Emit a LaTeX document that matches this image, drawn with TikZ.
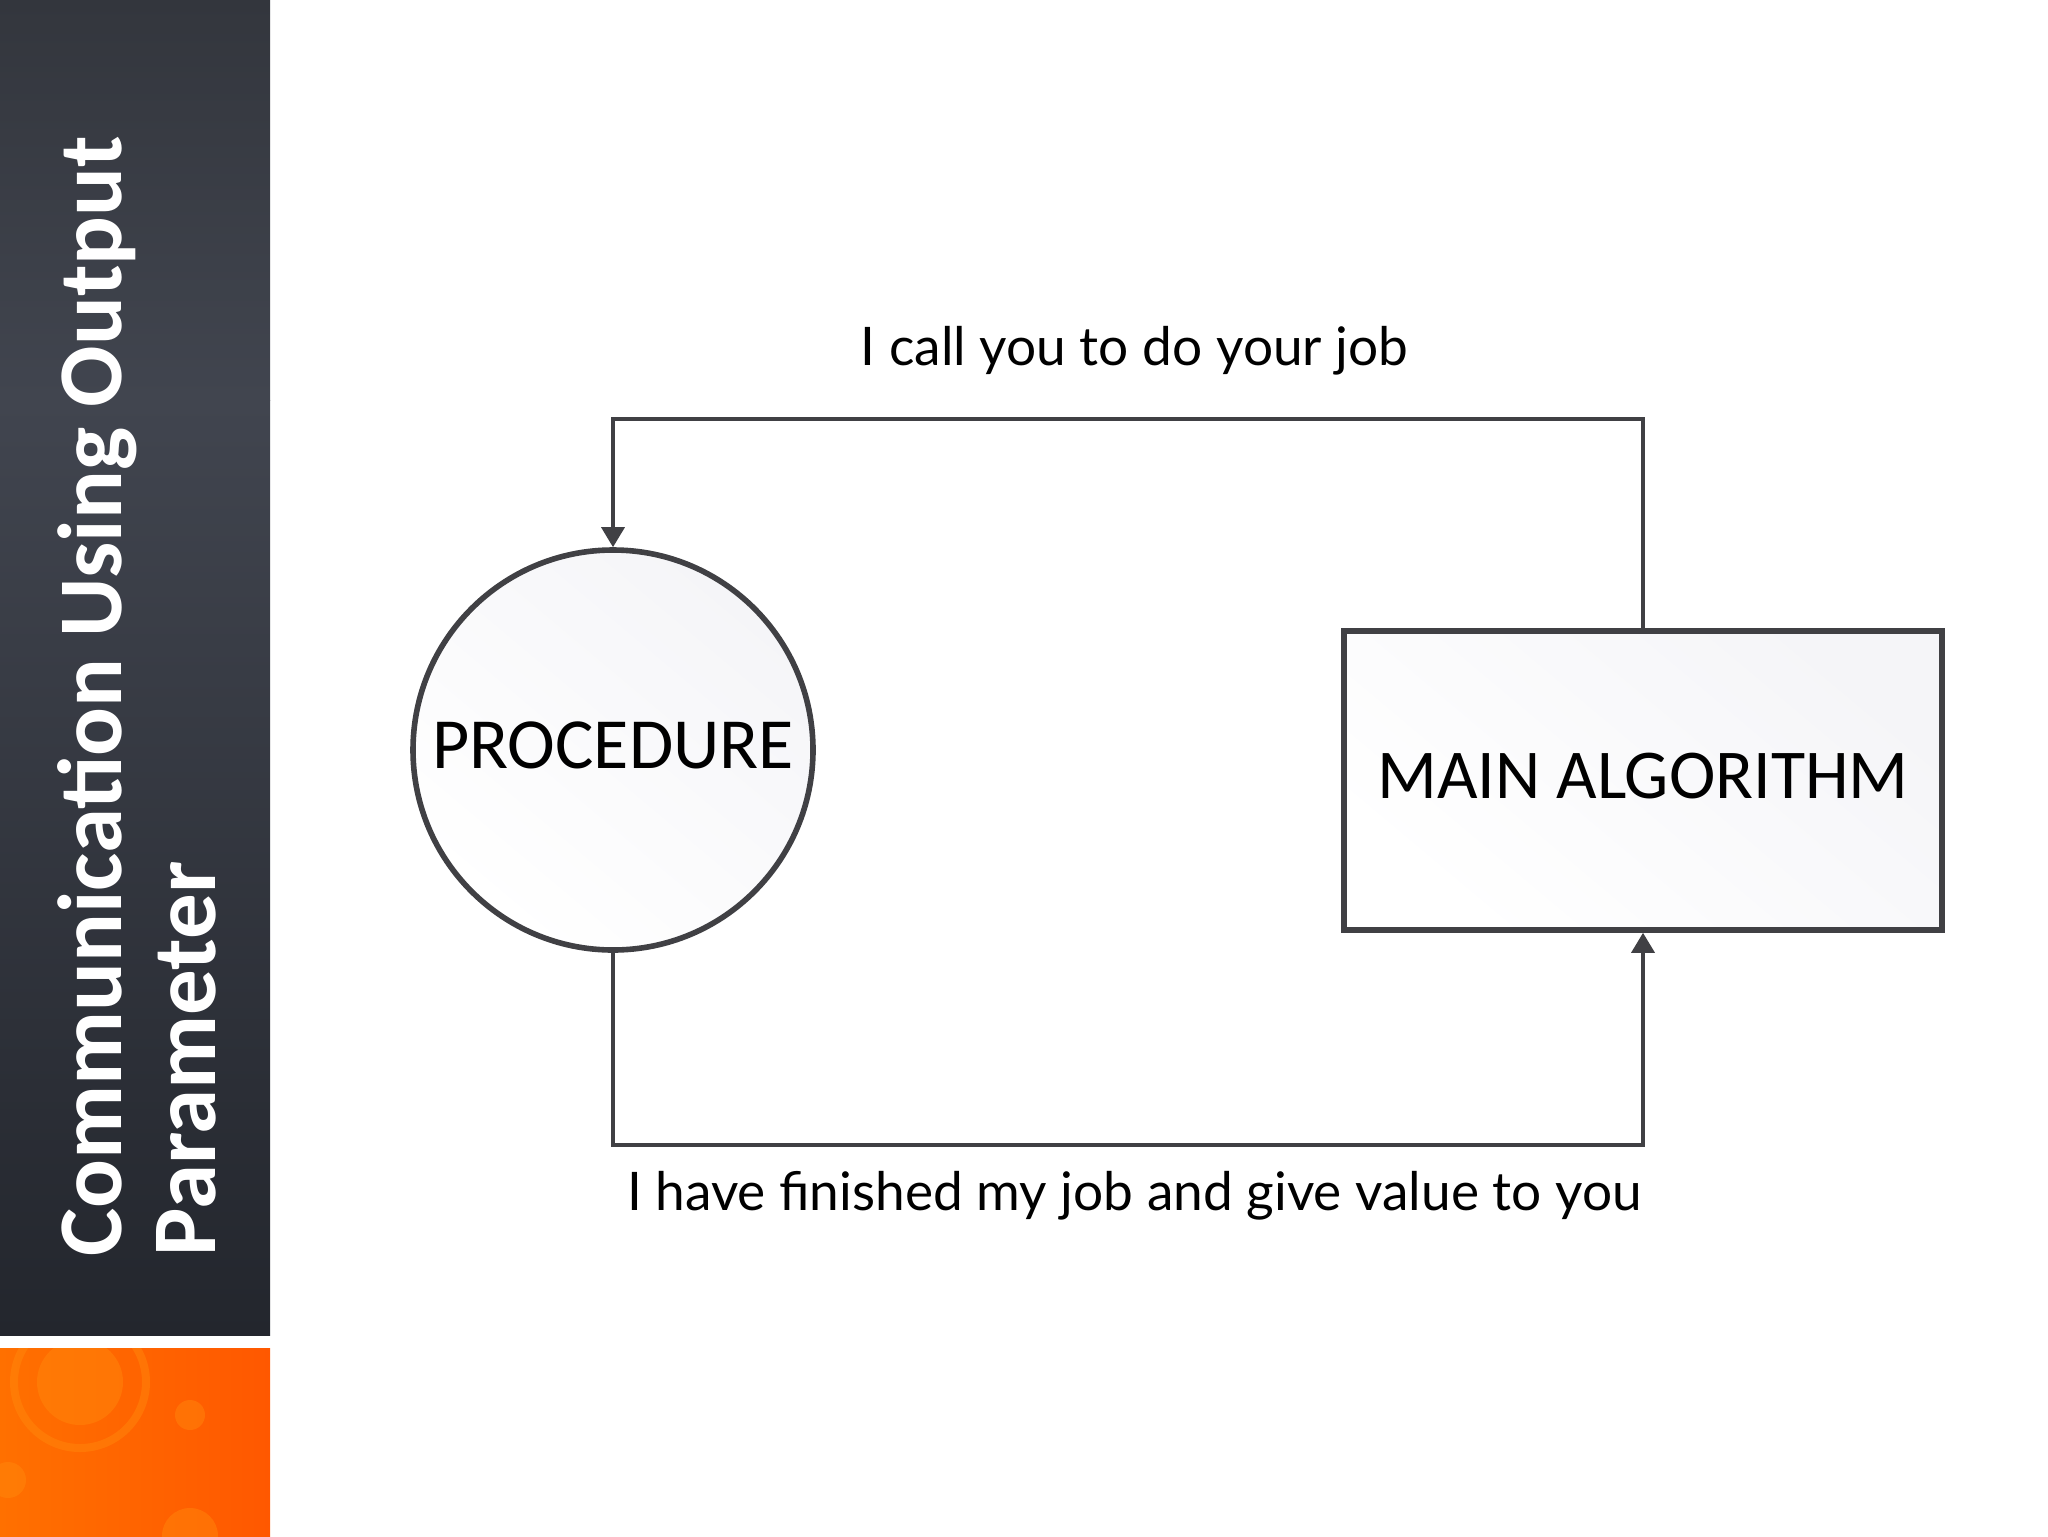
\documentclass[tikz,border=0pt]{standalone}
\usepackage{fontspec}
\usepackage{xcolor}
\setmainfont{Lato}
\newfontfamily\titlefont{Carlito}
\newfontfamily\figfont{Carlito}
\usetikzlibrary{arrows.meta, positioning}
\definecolor{slatetop}{HTML}{33363D}
\definecolor{slatemid}{HTML}{41454F}
\definecolor{slatelow}{HTML}{23262D}
\definecolor{panelwarm}{HTML}{FF7000}
\definecolor{panelhot}{HTML}{FF5800}
\definecolor{ringorange}{HTML}{FF8A0C}
\definecolor{figline}{HTML}{404044}
\definecolor{figfill}{HTML}{F5F5F8}
\tikzset{
	figshape/.style={draw=figline, line width=2.8pt, top color=figfill, middle color=white, bottom color=white, shading angle=-40, text=black, font=\figfont\fontsize{35}{35}\selectfont, text depth=5pt, inner sep=0pt},
	linklabel/.style={anchor=base, text=black, font=\fontsize{26.6}{26.6}\selectfont, inner sep=0pt},
	titleline/.style={rotate=90, anchor=base west, text=white, inner sep=0pt, font=\titlefont\bfseries\fontsize{45.5}{45.5}\selectfont},
}
\begin{document}
\begin{tikzpicture}[x=0.5pt, y=-0.5pt, ->, >={Triangle[width=11.5pt,length=10pt]}, line width=1.75pt]
	\useasboundingbox (0,0) rectangle (2048,1536);
	% side panel
	\fill[top color=slatetop, bottom color=slatemid, draw=none] (0,0) rectangle (270,400);
	\fill[top color=slatemid, bottom color=slatelow, draw=none] (0,400) rectangle (270,1335);
	\fill[left color=panelwarm, right color=panelhot, draw=none] (0,1348) rectangle (270,1536);
	\begin{scope}
		\clip (0,1348) rectangle (270,1536);
		\begin{scope}[ringorange, opacity=0.45]
			\draw[-, line width=4pt] (80,1382) circle (66);
			\fill (80,1382) circle (43);
			\fill (190,1415) circle (15);
			\fill (190,1536) circle (28);
			\fill (8,1480) circle (18);
		\end{scope}
	\end{scope}
	\node[titleline] (titleone) at (121,1258) {Communication Using Output};
	\node[titleline] (titletwo) at (215,1258) {Parameter};
	% shapes
	\node at (613,750) (procedure) [figshape, circle, minimum size=200pt, font=\figfont\fontsize{36}{36}\selectfont] {PROCEDURE};
	\node at (1643,780.5) (mainalg) [figshape, rectangle, minimum width=299pt, minimum height=149.5pt] {MAIN ALGORITHM};
	\coordinate (calltop) at (1643,419);
	\coordinate (callleft) at (613,419);
	\coordinate (backleft) at (613,1145);
	\coordinate (backright) at (1643,1145);
	% connectors
	\draw[figline] (mainalg.north) -- (calltop) -- (callleft) -- (procedure.north);
	\draw[figline] (procedure.south) -- (backleft) -- (backright) -- (mainalg.south);
	\node[linklabel] (calltext) at (1134.5,365) {I call you to do your job};
	\node[linklabel] (backtext) at (1134.5,1210) {I have finished my job and give value to you};
\end{tikzpicture}
\end{document}
